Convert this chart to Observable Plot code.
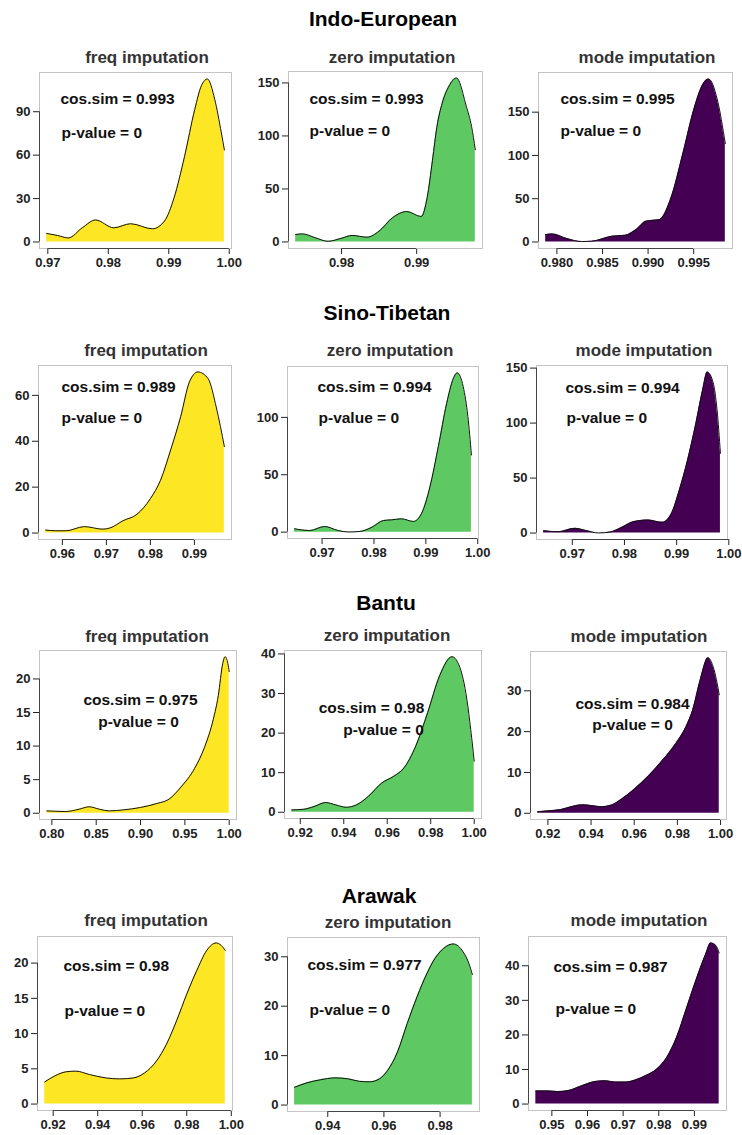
<!DOCTYPE html>
<html>
<head>
<meta charset="utf-8">
<script src="https://cdn.jsdelivr.net/npm/d3@7"></script>
<script src="https://cdn.jsdelivr.net/npm/@observablehq/plot@0.6"></script>
<style>
  body { margin: 0; background: #fff; }
  #fig { position: relative; width: 742px; height: 1135px; background: #fff;
         font-family: "Liberation Sans", Arial, sans-serif; }
  .fam { position: absolute; font-weight: bold; font-size: 21px; line-height: 1; color: #000;
         transform: translate(-50%, -50%); white-space: nowrap; }
  .sub { position: absolute; font-weight: bold; font-size: 17px; line-height: 1; color: #333;
         transform: translate(-50%, -50%); white-space: nowrap; }
  .panel { position: absolute; }
</style>
</head>
<body>
<div id="fig"></div>
<script>
// ---- Categories ----
const families = ["Indo-European", "Sino-Tibetan", "Bantu", "Arawak"];
const methods = ["freq imputation", "zero imputation", "mode imputation"];
const methodColors = ["#fde725", "#5ec962", "#440154"];

// ---- Cosine similarity per family (freq, zero, mode) ----
const cosIndoEuropean = ["0.993", "0.993", "0.995"];
const cosSinoTibetan = ["0.989", "0.994", "0.994"];
const cosBantu = ["0.975", "0.98", "0.984"];
const cosArawak = ["0.98", "0.977", "0.987"];
const pValue = "0";

// ---- Density curves: [cosine similarity, density] ----
const indoEuropeanFreq = [[0.9698,5.9],[0.9716,4.5],[0.9734,2.8],[0.9757,9.8],[0.9779,15.2],[0.9809,9.8],[0.9837,12.6],[0.9873,9.1],[0.9893,14.5],[0.9909,30.8],[0.9926,58.9],[0.9943,91.6],[0.9954,108],[0.9964,112.6],[0.9976,98.6],[0.9987,75.3],[0.9992,63.6]];
const indoEuropeanZero = [[0.9739,7.0],[0.9748,7.6],[0.9765,4.0],[0.9782,0.6],[0.9800,3.5],[0.9814,6.1],[0.9834,4.5],[0.9850,10.2],[0.9868,22.9],[0.9887,28.7],[0.9906,24],[0.9914,42],[0.9921,77],[0.9927,109],[0.9934,131],[0.9943,147],[0.9953,154.6],[0.9966,128],[0.9973,109],[0.9978,87]];
const indoEuropeanMode = [[0.97877,8.6],[0.9795,9.3],[0.9811,3.9],[0.9827,0.5],[0.9838,0.8],[0.9860,6.6],[0.9875,7.8],[0.9887,14.4],[0.9898,24.1],[0.9913,26.1],[0.9924,47.5],[0.9939,105.8],[0.9950,152.5],[0.9961,183.7],[0.99664,188.3],[0.9976,164.2],[0.99847,113.6]];

const sinoTibetanFreq = [[0.9562,1.3],[0.9585,1.0],[0.9608,1.0],[0.9650,2.8],[0.9692,1.7],[0.9708,2.2],[0.9738,5.4],[0.9769,8.1],[0.9800,15],[0.9823,23],[0.9846,36.2],[0.9869,50.9],[0.9888,65.5],[0.9908,70.2],[0.9931,67.3],[0.9950,54.5],[0.9968,37.7]];
const sinoTibetanZero = [[0.9647,2.9],[0.9676,1.4],[0.9705,4.9],[0.9731,1.4],[0.9750,0.1],[0.9773,0.6],[0.9796,4.3],[0.9818,10.1],[0.9834,10.7],[0.9853,11.6],[0.9876,9.3],[0.9892,16.5],[0.9908,39.7],[0.9924,74.5],[0.9940,112],[0.9953,134],[0.99605,138.8],[0.9972,126.7],[0.9981,100.6],[0.99878,67.2]];
const sinoTibetanMode = [[0.9645,2.1],[0.9673,1.2],[0.9705,4.3],[0.9728,2.1],[0.9750,0.1],[0.9773,0.9],[0.9795,5.2],[0.9818,10.4],[0.9844,11.9],[0.9873,9.8],[0.9889,16.8],[0.9905,38.8],[0.9921,66.4],[0.9937,100],[0.9950,130.6],[0.99587,146.5],[0.9970,136.7],[0.99774,112.2],[0.99839,72.5]];

const bantuFreq = [[0.7943,0.35],[0.8038,0.3],[0.8153,0.25],[0.8307,0.6],[0.8421,0.96],[0.8536,0.6],[0.8651,0.35],[0.8805,0.5],[0.9000,0.86],[0.9188,1.46],[0.9322,2.1],[0.9456,3.9],[0.9609,6.65],[0.9724,9.9],[0.9820,13.95],[0.9877,17.5],[0.9927,22.3],[0.9954,23.3],[0.9985,22.3],[1.0,21.1]];
const bantuZero = [[0.9161,0.6],[0.9216,0.76],[0.9263,1.44],[0.9317,2.46],[0.9364,1.86],[0.9411,1.27],[0.9458,1.86],[0.9513,4.0],[0.9575,7.4],[0.9630,9.1],[0.9677,11.2],[0.9731,16.7],[0.9786,25.2],[0.9841,34.5],[0.9898,39.3],[0.9934,36.6],[0.9966,28.6],[0.9984,20.9],[1.0,12.9]];
const bantuMode = [[0.9153,0.4],[0.9205,0.6],[0.9260,0.9],[0.9322,1.8],[0.9362,2.06],[0.9400,1.9],[0.9448,1.6],[0.9495,2.0],[0.9542,3.5],[0.9600,5.9],[0.9667,9.2],[0.9730,12.9],[0.9793,17.1],[0.9840,21.2],[0.9871,25.3],[0.9906,32.7],[0.9942,38.1],[0.9965,36.0],[0.9981,32.7],[0.9994,29.0]];

const arawakFreq = [[0.9162,3.14],[0.9205,3.95],[0.9257,4.57],[0.9302,4.67],[0.9363,4.19],[0.9438,3.7],[0.9498,3.57],[0.9559,3.7],[0.9611,4.43],[0.9664,6.1],[0.9709,8.5],[0.9754,11.8],[0.9800,15.6],[0.9845,18.95],[0.9890,21.8],[0.9932,22.86],[0.9955,22.5],[0.9973,21.8]];
const arawakZero = [[0.9282,3.6],[0.9326,4.5],[0.9373,5.1],[0.9426,5.5],[0.9473,5.3],[0.9513,4.8],[0.9549,4.7],[0.9584,5.3],[0.9613,7.0],[0.9648,10.7],[0.9683,16.5],[0.9718,21.9],[0.9753,26.6],[0.9782,29.7],[0.9800,31.0],[0.9847,32.6],[0.9882,31.0],[0.9903,28.6],[0.9915,26.4]];
const arawakMode = [[0.9455,3.8],[0.9489,3.8],[0.9517,3.6],[0.9546,3.9],[0.9584,5.3],[0.9622,6.55],[0.9650,6.75],[0.9679,6.36],[0.9708,6.36],[0.9736,7.0],[0.9765,8.3],[0.9793,10.0],[0.9822,13.4],[0.9850,19.3],[0.9879,28.1],[0.9908,36.9],[0.9931,43.2],[0.99457,46.6],[0.9960,45.9],[0.99695,43.7]];

// ---- Tick labels (freq, zero, mode) ----
const xTicksIndoEuropean = [["0.97","0.98","0.99","1.00"], ["0.98","0.99"], ["0.980","0.985","0.990","0.995"]];
const yTicksIndoEuropean = [["0","30","60","90"], ["0","50","100","150"], ["0","50","100","150"]];
const xTicksSinoTibetan = [["0.96","0.97","0.98","0.99"], ["0.97","0.98","0.99","1.00"], ["0.97","0.98","0.99","1.00"]];
const yTicksSinoTibetan = [["0","20","40","60"], ["0","50","100"], ["0","50","100","150"]];
const xTicksBantu = [["0.80","0.85","0.90","0.95","1.00"], ["0.92","0.94","0.96","0.98","1.00"], ["0.92","0.94","0.96","0.98","1.00"]];
const yTicksBantu = [["0","5","10","15","20"], ["0","10","20","30","40"], ["0","10","20","30"]];
const xTicksArawak = [["0.92","0.94","0.96","0.98","1.00"], ["0.94","0.96","0.98"], ["0.95","0.96","0.97","0.98","0.99"]];
const yTicksArawak = [["0","5","10","15","20"], ["0","10","20","30"], ["0","10","20","30","40"]];

// ---- Page layout ----
const densities = [
  [indoEuropeanFreq, indoEuropeanZero, indoEuropeanMode],
  [sinoTibetanFreq, sinoTibetanZero, sinoTibetanMode],
  [bantuFreq, bantuZero, bantuMode],
  [arawakFreq, arawakZero, arawakMode]
];
const cosRows = [cosIndoEuropean, cosSinoTibetan, cosBantu, cosArawak];
const xTickRows = [xTicksIndoEuropean, xTicksSinoTibetan, xTicksBantu, xTicksArawak];
const yTickRows = [yTicksIndoEuropean, yTicksSinoTibetan, yTicksBantu, yTicksArawak];

// plot-box edges on the page: [left, top, right, bottom]
const boxes = [
  [[39,72,231,248], [288,71,482,248], [538,72,732,248]],
  [[38,365,231,539], [287,366,478,538], [536,365,727,539]],
  [[39,650,236,819], [284,650,481,818], [530,651,726,819]],
  [[37,936,232,1110], [287,937,479,1111], [528,936,726,1110]]
];
const familyTitlePos = [[383,18], [387,312], [386,602], [379,895]];
const methodTitlePos = [
  [[147,57], [392,57], [647,57]],
  [[146,350], [390,350], [644,350]],
  [[147,636], [387,635], [639,636]],
  [[146,920], [388,922], [639,920]]
];
// annotation anchor and offsets from the box's top-left: [cos dx, cos dy, p dx, p dy]
const noteAnchor = ["start", "start", "middle", "start"];
const noteOffsets = [
  [[21,27,22,61], [21,28,21,60], [22,27,22,59]],
  [[23,22,23,53], [30,21,31,52], [29,23,30,53]],
  [[101,50,99,72], [87,58,99,80], [102,53,102,74]],
  [[26,30,27,75], [20,28,22,73], [25,31,27,73]]
];

const fig = document.getElementById("fig");

function addLabel(cls, text, [x, y]) {
  const el = document.createElement("div");
  el.className = cls;
  el.textContent = text;
  el.style.left = x + "px";
  el.style.top = y + "px";
  fig.appendChild(el);
}

function densityPanel(points, color, xLabels, yLabels, cos, anchor, offs, box) {
  const [bl, bt, br, bb] = box;
  const mL = 50, mR = 6, mT = 6, mB = 34;
  const data = points.map(([x, y]) => ({x, y}));
  const [x0, x1] = d3.extent(data, d => d.x);
  const yMax = d3.max(data, d => d.y);
  const xPad = (x1 - x0) * 0.04, yPad = yMax * 0.04;
  const xDomain = [x0 - xPad, x1 + xPad];
  const yDomain = [-yPad, yMax + yPad];
  const xt = xLabels.map(Number), yt = yLabels.map(Number);
  const xLab = new Map(xt.map((v, i) => [v, xLabels[i]]));
  const yLab = new Map(yt.map((v, i) => [v, yLabels[i]]));

  const noteStyle = {text: d => d, frameAnchor: "top-left", lineAnchor: "middle",
    textAnchor: anchor, fontSize: 15.5, fontWeight: "bold", fill: "#111"};

  const svg = Plot.plot({
    width: br - bl + mL + mR,
    height: bb - bt + mT + mB,
    marginLeft: mL, marginRight: mR, marginTop: mT, marginBottom: mB,
    style: {
      fontFamily: "'Liberation Sans', Arial, sans-serif",
      fontSize: "13px",
      fontWeight: "bold",
      color: "#222",
      background: "transparent",
      overflow: "visible"
    },
    x: {domain: xDomain, ticks: xt, tickFormat: d => xLab.get(d), tickSize: 6, tickPadding: 3, label: null},
    y: {domain: yDomain, ticks: yt, tickFormat: d => yLab.get(d), tickSize: 6, tickPadding: 3, label: null},
    marks: [
      Plot.frame({stroke: "#c4c4c4", strokeWidth: 1}),
      Plot.areaY(data, {x: "x", y: "y", fill: color, curve: "monotone-x"}),
      Plot.line(data, {x: "x", y: "y", stroke: "#111", strokeWidth: 1, curve: "monotone-x"}),
      // axis lines spanning first to last tick
      Plot.ruleY([{y: yDomain[0], x1: xt[0], x2: xt[xt.length - 1]}], {y: "y", x1: "x1", x2: "x2", stroke: "#444"}),
      Plot.ruleX([{x: xDomain[0], y1: yt[0], y2: yt[yt.length - 1]}], {x: "x", y1: "y1", y2: "y2", stroke: "#444"}),
      Plot.text([`cos.sim = ${cos}`], {...noteStyle, dx: offs[0], dy: offs[1]}),
      Plot.text([`p-value = ${pValue}`], {...noteStyle, dx: offs[2], dy: offs[3]})
    ]
  });

  const wrap = document.createElement("div");
  wrap.className = "panel";
  wrap.style.left = (bl - mL) + "px";
  wrap.style.top = (bt - mT) + "px";
  wrap.appendChild(svg);
  fig.appendChild(wrap);
}

families.forEach((fam, r) => {
  addLabel("fam", fam, familyTitlePos[r]);
  methods.forEach((m, c) => {
    addLabel("sub", m, methodTitlePos[r][c]);
    densityPanel(
      densities[r][c], methodColors[c],
      xTickRows[r][c], yTickRows[r][c],
      cosRows[r][c], noteAnchor[r], noteOffsets[r][c], boxes[r][c]
    );
  });
});
</script>
</body>
</html>
